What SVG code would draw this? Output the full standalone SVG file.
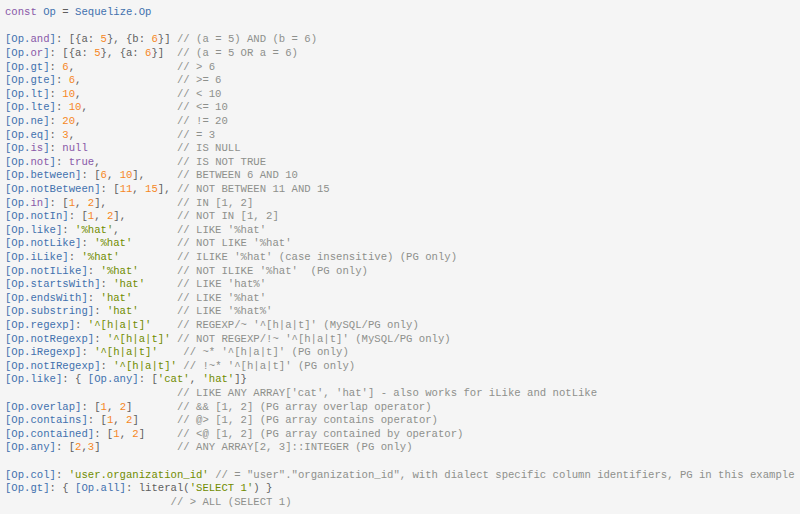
<svg xmlns="http://www.w3.org/2000/svg" width="800" height="514" viewBox="0 0 800 514">
<style>
text{font-family:"Liberation Mono","DejaVu Sans Mono",monospace;font-size:10.62px;fill:#5f5f5f;white-space:pre}
.k{fill:#4271ae}.p{fill:#8959a8}.n{fill:#f5871f}.s{fill:#718c00}.c{fill:#8e908c}
</style>
<rect x="0" y="0" width="800" height="514" fill="#f5f5f5"/>
<g id="code" xml:space="preserve" transform="translate(0,0.8)">
<text x="5" y="14.5"><tspan class="p">const</tspan> <tspan class="k">Op</tspan> = <tspan class="k">Sequelize.Op</tspan></text>
<text x="5" y="41.7"><tspan class="k">[Op.</tspan><tspan class="p">and</tspan><tspan class="k">]</tspan>: [{a: <tspan class="n">5</tspan>}, {b: <tspan class="n">6</tspan>}] <tspan class="c">// (a = 5) AND (b = 6)</tspan></text>
<text x="5" y="55.3"><tspan class="k">[Op.</tspan><tspan class="p">or</tspan><tspan class="k">]</tspan>: [{a: <tspan class="n">5</tspan>}, {a: <tspan class="n">6</tspan>}]  <tspan class="c">// (a = 5 OR a = 6)</tspan></text>
<text x="5" y="68.9"><tspan class="k">[Op.gt]</tspan>: <tspan class="n">6</tspan>,                <tspan class="c">// &gt; 6</tspan></text>
<text x="5" y="82.5"><tspan class="k">[Op.gte]</tspan>: <tspan class="n">6</tspan>,               <tspan class="c">// &gt;= 6</tspan></text>
<text x="5" y="96.1"><tspan class="k">[Op.lt]</tspan>: <tspan class="n">10</tspan>,               <tspan class="c">// &lt; 10</tspan></text>
<text x="5" y="109.7"><tspan class="k">[Op.lte]</tspan>: <tspan class="n">10</tspan>,              <tspan class="c">// &lt;= 10</tspan></text>
<text x="5" y="123.3"><tspan class="k">[Op.ne]</tspan>: <tspan class="n">20</tspan>,               <tspan class="c">// != 20</tspan></text>
<text x="5" y="136.9"><tspan class="k">[Op.eq]</tspan>: <tspan class="n">3</tspan>,                <tspan class="c">// = 3</tspan></text>
<text x="5" y="150.5"><tspan class="k">[Op.</tspan><tspan class="p">is</tspan><tspan class="k">]</tspan>: <tspan class="p">null</tspan>              <tspan class="c">// IS NULL</tspan></text>
<text x="5" y="164.1"><tspan class="k">[Op.</tspan><tspan class="p">not</tspan><tspan class="k">]</tspan>: <tspan class="p">true</tspan>,            <tspan class="c">// IS NOT TRUE</tspan></text>
<text x="5" y="177.7"><tspan class="k">[Op.between]</tspan>: [<tspan class="n">6</tspan>, <tspan class="n">10</tspan>],     <tspan class="c">// BETWEEN 6 AND 10</tspan></text>
<text x="5" y="191.3"><tspan class="k">[Op.notBetween]</tspan>: [<tspan class="n">11</tspan>, <tspan class="n">15</tspan>], <tspan class="c">// NOT BETWEEN 11 AND 15</tspan></text>
<text x="5" y="204.9"><tspan class="k">[Op.</tspan><tspan class="p">in</tspan><tspan class="k">]</tspan>: [<tspan class="n">1</tspan>, <tspan class="n">2</tspan>],           <tspan class="c">// IN [1, 2]</tspan></text>
<text x="5" y="218.5"><tspan class="k">[Op.notIn]</tspan>: [<tspan class="n">1</tspan>, <tspan class="n">2</tspan>],        <tspan class="c">// NOT IN [1, 2]</tspan></text>
<text x="5" y="232.1"><tspan class="k">[Op.like]</tspan>: <tspan class="s">'%hat'</tspan>,         <tspan class="c">// LIKE '%hat'</tspan></text>
<text x="5" y="245.7"><tspan class="k">[Op.notLike]</tspan>: <tspan class="s">'%hat'</tspan>       <tspan class="c">// NOT LIKE '%hat'</tspan></text>
<text x="5" y="259.3"><tspan class="k">[Op.iLike]</tspan>: <tspan class="s">'%hat'</tspan>         <tspan class="c">// ILIKE '%hat' (case insensitive) (PG only)</tspan></text>
<text x="5" y="272.9"><tspan class="k">[Op.notILike]</tspan>: <tspan class="s">'%hat'</tspan>      <tspan class="c">// NOT ILIKE '%hat'  (PG only)</tspan></text>
<text x="5" y="286.5"><tspan class="k">[Op.startsWith]</tspan>: <tspan class="s">'hat'</tspan>     <tspan class="c">// LIKE 'hat%'</tspan></text>
<text x="5" y="300.1"><tspan class="k">[Op.endsWith]</tspan>: <tspan class="s">'hat'</tspan>       <tspan class="c">// LIKE '%hat'</tspan></text>
<text x="5" y="313.7"><tspan class="k">[Op.substring]</tspan>: <tspan class="s">'hat'</tspan>      <tspan class="c">// LIKE '%hat%'</tspan></text>
<text x="5" y="327.3"><tspan class="k">[Op.regexp]</tspan>: <tspan class="s">'^[h|a|t]'</tspan>    <tspan class="c">// REGEXP/~ '^[h|a|t]' (MySQL/PG only)</tspan></text>
<text x="5" y="340.9"><tspan class="k">[Op.notRegexp]</tspan>: <tspan class="s">'^[h|a|t]'</tspan> <tspan class="c">// NOT REGEXP/!~ '^[h|a|t]' (MySQL/PG only)</tspan></text>
<text x="5" y="354.5"><tspan class="k">[Op.iRegexp]</tspan>: <tspan class="s">'^[h|a|t]'</tspan>    <tspan class="c">// ~* '^[h|a|t]' (PG only)</tspan></text>
<text x="5" y="368.1"><tspan class="k">[Op.notIRegexp]</tspan>: <tspan class="s">'^[h|a|t]'</tspan> <tspan class="c">// !~* '^[h|a|t]' (PG only)</tspan></text>
<text x="5" y="381.7"><tspan class="k">[Op.like]</tspan>: { <tspan class="k">[Op.any]</tspan>: [<tspan class="s">'cat'</tspan>, <tspan class="s">'hat'</tspan>]}</text>
<text x="5" y="395.3">                           <tspan class="c">// LIKE ANY ARRAY['cat', 'hat'] - also works for iLike and notLike</tspan></text>
<text x="5" y="408.9"><tspan class="k">[Op.overlap]</tspan>: [<tspan class="n">1</tspan>, <tspan class="n">2</tspan>]       <tspan class="c">// &amp;&amp; [1, 2] (PG array overlap operator)</tspan></text>
<text x="5" y="422.5"><tspan class="k">[Op.contains]</tspan>: [<tspan class="n">1</tspan>, <tspan class="n">2</tspan>]      <tspan class="c">// @&gt; [1, 2] (PG array contains operator)</tspan></text>
<text x="5" y="436.1"><tspan class="k">[Op.contained]</tspan>: [<tspan class="n">1</tspan>, <tspan class="n">2</tspan>]     <tspan class="c">// &lt;@ [1, 2] (PG array contained by operator)</tspan></text>
<text x="5" y="449.7"><tspan class="k">[Op.any]</tspan>: [<tspan class="n">2</tspan>,<tspan class="n">3</tspan>]            <tspan class="c">// ANY ARRAY[2, 3]::INTEGER (PG only)</tspan></text>
<text x="5" y="476.9"><tspan class="k">[Op.col]</tspan>: <tspan class="s">'user.organization_id'</tspan> <tspan class="c">// = "user"."organization_id", with dialect specific column identifiers, PG in this example</tspan></text>
<text x="5" y="490.5"><tspan class="k">[Op.gt]</tspan>: { <tspan class="k">[Op.all]</tspan>: literal(<tspan class="s">'SELECT 1'</tspan>) }</text>
<text x="5" y="504.1">                          <tspan class="c">// &gt; ALL (SELECT 1)</tspan></text>
</g>
</svg>
